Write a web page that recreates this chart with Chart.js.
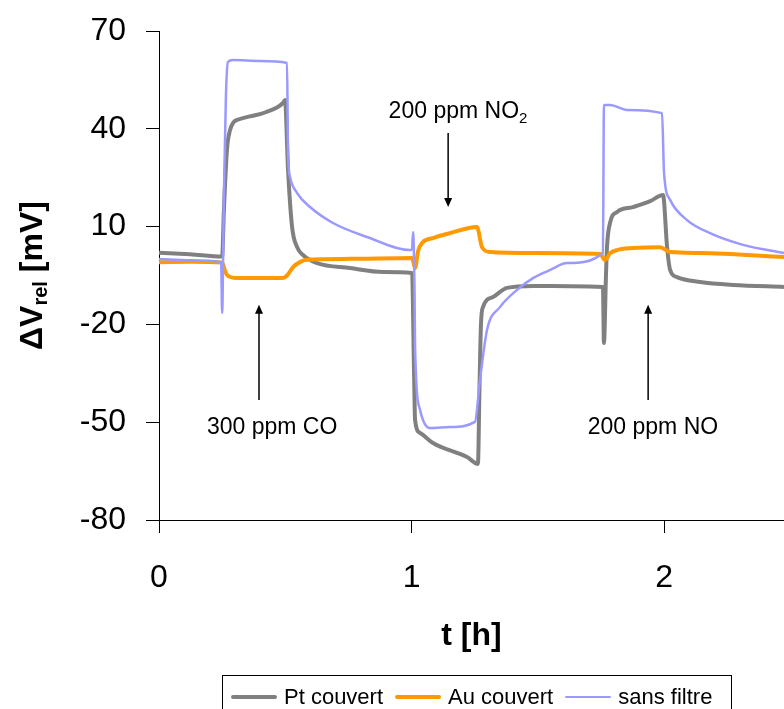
<!DOCTYPE html>
<html>
<head>
<meta charset="utf-8">
<script src="https://cdn.jsdelivr.net/npm/chart.js@4.4.0/dist/chart.umd.min.js"></script>
<style>
  html, body { margin: 0; padding: 0; background: #fff; }
  #wrap { position: relative; width: 784px; height: 709px; overflow: hidden; }
  #legend {
    position: absolute; left: 222px; top: 675px; width: 510px; height: 44px;
    border: 1px solid #000; box-sizing: border-box;
    font-family: 'Liberation Sans', Arial, sans-serif; font-size: 22px; color: #000;
    display: flex; align-items: center; padding-left: 8px; white-space: nowrap;
  }
  #legend .item { display: flex; align-items: center; margin-right: 12px; flex-shrink: 0; }
  #legend .swatch { width: 46px; margin-right: 7px; }
</style>
</head>
<body>
<div id="wrap">
  <canvas id="chart" width="784" height="709"></canvas>
  <div id="legend"></div>
</div>
<script>
// t [h] / ΔV [mV]
const ptT = [0, 0.123, 0.25, 0.257, 0.269, 0.281, 0.293, 0.321, 0.36, 0.42, 0.491, 0.499, 0.511, 0.527, 0.547, 0.57, 0.626, 0.756, 0.887, 1.002, 1.01, 1.014, 1.034, 1.085, 1.22, 1.263, 1.269, 1.275, 1.283, 1.323, 1.378, 1.481, 1.628, 1.758, 1.762, 1.77, 1.774, 1.786, 1.814, 1.877, 1.945, 1.996, 2.012, 2.024, 2.051, 2.143, 2.273, 2.475];
const ptV = [2.0, 1.5, 0.8, 15, 33.5, 39.5, 41.8, 43.0, 43.8, 45.0, 47.9, 48.8, 27.4, 9.9, 3.7, 1.3, -1.2, -2.7, -3.9, -4.2, -35, -49.3, -53.3, -56.4, -60.7, -62.8, -40, -20, -14.7, -11.6, -8.8, -8.2, -8.3, -8.5, -25.7, -5, 3.7, 11.1, 14.5, 16.0, 17.8, 19.7, 3.7, -3.3, -5.5, -7.0, -7.9, -8.5];

const auT = [0, 0.123, 0.25, 0.261, 0.269, 0.309, 0.491, 0.507, 0.531, 0.558, 0.586, 0.756, 1.002, 1.014, 1.026, 1.042, 1.085, 1.152, 1.259, 1.279, 1.311, 1.481, 1.747, 1.766, 1.786, 1.814, 1.877, 1.984, 2.024, 2.143, 2.475];
const auV = [-0.9, -0.8, -1.0, -3.5, -4.8, -5.8, -5.8, -5.0, -2.4, -0.9, -0.2, 0.1, 0.4, -2.7, 2.5, 5.0, 6.5, 8.0, 9.9, 3.7, 2.2, 1.9, 1.6, -0.2, 1.8, 2.8, 3.4, 3.7, 2.2, 1.9, 0.7];

const sfT = [0, 0.123, 0.246, 0.25, 0.257, 0.265, 0.273, 0.293, 0.4, 0.507, 0.511, 0.519, 0.547, 0.598, 0.689, 0.824, 0.994, 1.002, 1.006, 1.012, 1.014, 1.034, 1.073, 1.152, 1.251, 1.271, 1.299, 1.35, 1.418, 1.481, 1.549, 1.616, 1.758, 1.762, 1.786, 1.853, 1.992, 2.0, 2.024, 2.091, 2.182, 2.313, 2.475];
const sfV = [0.1, -0.3, -0.9, -16.5, 20, 50, 60.5, 61.1, 60.8, 60.2, 32.6, 25.2, 20.3, 16.0, 11.1, 6.8, 2.8, 3.0, 8.3, -10, -26.9, -46.3, -51.8, -51.5, -49.9, -37.1, -21.7, -14.7, -9.4, -5.8, -3.3, -1.2, 1.9, 47.3, 47.3, 45.8, 44.8, 26.4, 18.2, 12.0, 8.0, 4.4, 1.9];

const seriesNames = ['Pt couvert', 'Au couvert', 'sans filtre'];
const seriesColors = ['#808080', '#ff9900', '#9999ff'];
const seriesWidths = [4, 4, 2.5];

const xTicks = [0, 1, 2];
const yTicks = [-80, -50, -20, 10, 40, 70];

// gas annotations (label position and arrow in data units)
const notes = [
  { text: '300 ppm CO', sub: '', t: 0.448, v: -51.8 },
  { text: '200 ppm NO', sub: '2', t: 1.184, v: 45.2 },
  { text: '200 ppm NO', sub: '', t: 1.956, v: -51.8 }
];
const arrows = [
  { t: 0.396, from: -43.2, to: -14.0 },
  { t: 1.145, from: 38.7, to: 16.0 },
  { t: 1.937, from: -43.2, to: -14.0 }
];

const FONT = "'Liberation Sans', Arial, sans-serif";

function pts(ts, vs) {
  return ts.map((t, i) => ({ x: t, y: vs[i] }));
}

const annotate = {
  id: 'annotate',
  afterDatasetsDraw(chart) {
    const ctx = chart.ctx;
    const xs = chart.scales.x, ys = chart.scales.y;
    ctx.save();
    ctx.fillStyle = '#000';
    ctx.strokeStyle = '#000';
    ctx.lineWidth = 1.5;
    arrows.forEach(a => {
      const x = xs.getPixelForValue(a.t);
      const y0 = ys.getPixelForValue(a.from);
      const y1 = ys.getPixelForValue(a.to);
      const dir = y1 < y0 ? 1 : -1;
      ctx.beginPath();
      ctx.moveTo(x, y0);
      ctx.lineTo(x, y1 + dir * 6);
      ctx.stroke();
      ctx.beginPath();
      ctx.moveTo(x, y1);
      ctx.lineTo(x - 4, y1 + dir * 9);
      ctx.lineTo(x + 4, y1 + dir * 9);
      ctx.closePath();
      ctx.fill();
    });
    ctx.textBaseline = 'middle';
    notes.forEach(n => {
      const x = xs.getPixelForValue(n.t);
      const y = ys.getPixelForValue(n.v);
      ctx.font = '23px ' + FONT;
      const w1 = ctx.measureText(n.text).width;
      ctx.font = '15px ' + FONT;
      const w2 = n.sub ? ctx.measureText(n.sub).width : 0;
      const left = x - (w1 + w2) / 2;
      ctx.font = '23px ' + FONT;
      ctx.textAlign = 'left';
      ctx.fillText(n.text, left, y);
      if (n.sub) {
        ctx.font = '15px ' + FONT;
        ctx.fillText(n.sub, left + w1, y + 7);
      }
    });
    ctx.restore();
  }
};

const axisTitles = {
  id: 'axisTitles',
  afterDraw(chart) {
    const ctx = chart.ctx;
    const ca = chart.chartArea;
    const big = 'bold 32px ' + FONT, small = 'bold 20px ' + FONT;
    ctx.save();
    ctx.fillStyle = '#000';
    ctx.textBaseline = 'middle';
    // x title
    ctx.font = big;
    ctx.textAlign = 'center';
    ctx.fillText('t [h]', (ca.left + ca.right) / 2, ca.bottom + 116);
    // y title with subscript
    ctx.translate(33, (ca.top + ca.bottom) / 2);
    ctx.rotate(-Math.PI / 2);
    ctx.textAlign = 'left';
    const a = '\u0394V', c = ' [mV]';
    const wa = ctx.measureText(a).width, wc = ctx.measureText(c).width;
    ctx.font = small;
    const wb = ctx.measureText('rel').width;
    let x = -(wa + wb + wc) / 2;
    ctx.font = big;
    ctx.fillText(a, x, 0);
    x += wa;
    ctx.font = small;
    ctx.fillText('rel', x, 8);
    x += wb;
    ctx.font = big;
    ctx.fillText(c, x, 0);
    ctx.restore();
  }
};

const datasets = [pts(ptT, ptV), pts(auT, auV), pts(sfT, sfV)].map((d, i) => ({
  label: seriesNames[i],
  data: d,
  borderColor: seriesColors[i],
  backgroundColor: seriesColors[i],
  borderWidth: seriesWidths[i],
  pointRadius: 0,
  cubicInterpolationMode: 'monotone',
  borderJoinStyle: 'round',
  fill: false,
  order: 3 - i
}));

new Chart(document.getElementById('chart').getContext('2d'), {
  type: 'line',
  data: { datasets },
  plugins: [annotate, axisTitles],
  options: {
    responsive: false,
    animation: false,
    devicePixelRatio: 1,
    layout: { padding: { top: 31, right: 0, left: 0, bottom: 0 } },
    plugins: { legend: { display: false }, tooltip: { enabled: false } },
    scales: {
      x: {
        type: 'linear',
        min: 0,
        max: 2.475,
        afterBuildTicks: s => { s.ticks = xTicks.map(v => ({ value: v })); },
        afterFit: s => { s.height = 189; s.paddingRight = 0; },
        grid: { drawOnChartArea: false, drawTicks: true, tickLength: 13, color: '#000' },
        border: { display: true, color: '#000', width: 1 },
        ticks: { color: '#000', font: { family: FONT, size: 32 }, padding: 26, maxRotation: 0 }
      },
      y: {
        min: -80,
        max: 70,
        afterBuildTicks: s => { s.ticks = yTicks.map(v => ({ value: v })); },
        afterFit: s => { s.width = 159; s.paddingTop = 0; s.paddingBottom = 0; },
        grid: { drawOnChartArea: false, drawTicks: true, tickLength: 13, color: '#000' },
        border: { display: true, color: '#000', width: 1 },
        ticks: { color: '#000', font: { family: FONT, size: 32 }, padding: 20 }
      }
    }
  }
});

// legend
const legend = document.getElementById('legend');
seriesNames.forEach((name, i) => {
  const item = document.createElement('div');
  item.className = 'item';
  const sw = document.createElement('div');
  sw.className = 'swatch';
  sw.style.height = seriesWidths[i] + 'px';
  sw.style.background = seriesColors[i];
  sw.style.borderRadius = '2px';
  const label = document.createElement('span');
  label.textContent = name;
  item.appendChild(sw);
  item.appendChild(label);
  legend.appendChild(item);
});
</script>
</body>
</html>
